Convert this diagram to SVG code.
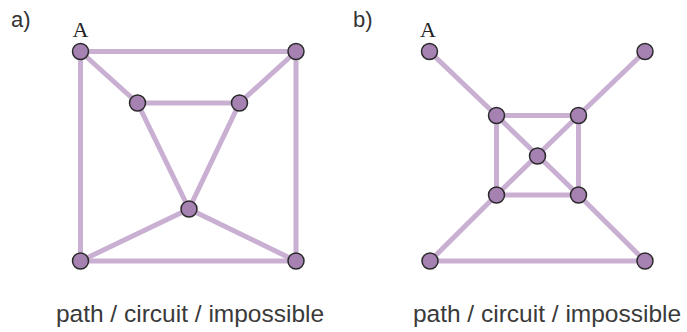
<svg xmlns="http://www.w3.org/2000/svg" width="687" height="332" viewBox="0 0 687 332">
<style>
.e{stroke:#c9b0d2;stroke-width:5;stroke-linecap:round;fill:none}
.n{fill:#a682b2;stroke:#2a2a2a;stroke-width:1.5}
.lbl{font-family:"Liberation Sans",Arial,sans-serif;font-size:22px;fill:#333}
.cap{font-family:"Liberation Sans",Arial,sans-serif;font-size:24.5px;fill:#3a3a3a;text-anchor:middle}
.A{font-family:"Liberation Serif","Times New Roman",serif;font-size:22px;fill:#222;text-anchor:middle}
</style>
<rect width="687" height="332" fill="#fff"/>
<text class="lbl" x="11" y="27">a)</text>
<text class="lbl" x="353" y="27">b)</text>
<text class="A" x="80.5" y="37">A</text>
<text class="A" x="428" y="37">A</text>
<g id="connectors">
<line class="e" x1="80.5" y1="51.5" x2="296" y2="51.5"/>
<line class="e" x1="80.5" y1="51.5" x2="80.5" y2="261"/>
<line class="e" x1="296" y1="51.5" x2="296" y2="261"/>
<line class="e" x1="80.5" y1="261" x2="296" y2="261"/>
<line class="e" x1="80.5" y1="51.5" x2="137.5" y2="103"/>
<line class="e" x1="296" y1="51.5" x2="239.5" y2="103"/>
<line class="e" x1="137.5" y1="103" x2="239.5" y2="103"/>
<line class="e" x1="137.5" y1="103" x2="189" y2="209"/>
<line class="e" x1="239.5" y1="103" x2="189" y2="209"/>
<line class="e" x1="189" y1="209" x2="80.5" y2="261"/>
<line class="e" x1="189" y1="209" x2="296" y2="261"/>
<line class="e" x1="429.5" y1="51.5" x2="496.5" y2="115.5"/>
<line class="e" x1="645" y1="51.5" x2="578.5" y2="115.5"/>
<line class="e" x1="496.5" y1="115.5" x2="578.5" y2="115.5"/>
<line class="e" x1="496.5" y1="195" x2="578.5" y2="195"/>
<line class="e" x1="496.5" y1="115.5" x2="496.5" y2="195"/>
<line class="e" x1="578.5" y1="115.5" x2="578.5" y2="195"/>
<line class="e" x1="496.5" y1="115.5" x2="578.5" y2="195"/>
<line class="e" x1="578.5" y1="115.5" x2="496.5" y2="195"/>
<line class="e" x1="496.5" y1="195" x2="430" y2="261"/>
<line class="e" x1="578.5" y1="195" x2="645" y2="261"/>
<line class="e" x1="430" y1="261" x2="645" y2="261"/>
</g>
<g id="a_A"><circle class="n" cx="80.5" cy="51.5" r="8"/></g>
<g id="a_TR"><circle class="n" cx="296" cy="51.5" r="8"/></g>
<g id="a_IL"><circle class="n" cx="137.5" cy="103" r="8"/></g>
<g id="a_IR"><circle class="n" cx="239.5" cy="103" r="8"/></g>
<g id="a_C"><circle class="n" cx="189" cy="209" r="8"/></g>
<g id="a_BL"><circle class="n" cx="80.5" cy="261" r="8"/></g>
<g id="a_BR"><circle class="n" cx="296" cy="261" r="8"/></g>
<g id="b_A"><circle class="n" cx="429.5" cy="51.5" r="8"/></g>
<g id="b_TR"><circle class="n" cx="645" cy="51.5" r="8"/></g>
<g id="b_ITL"><circle class="n" cx="496.5" cy="115.5" r="8"/></g>
<g id="b_ITR"><circle class="n" cx="578.5" cy="115.5" r="8"/></g>
<g id="b_C"><circle class="n" cx="537.5" cy="156" r="8"/></g>
<g id="b_IBL"><circle class="n" cx="496.5" cy="195" r="8"/></g>
<g id="b_IBR"><circle class="n" cx="578.5" cy="195" r="8"/></g>
<g id="b_BL"><circle class="n" cx="430" cy="261" r="8"/></g>
<g id="b_BR"><circle class="n" cx="645" cy="261" r="8"/></g>
<text class="cap" x="190" y="322">path / circuit / impossible</text>
<text class="cap" x="547" y="322">path / circuit / impossible</text>
</svg>
